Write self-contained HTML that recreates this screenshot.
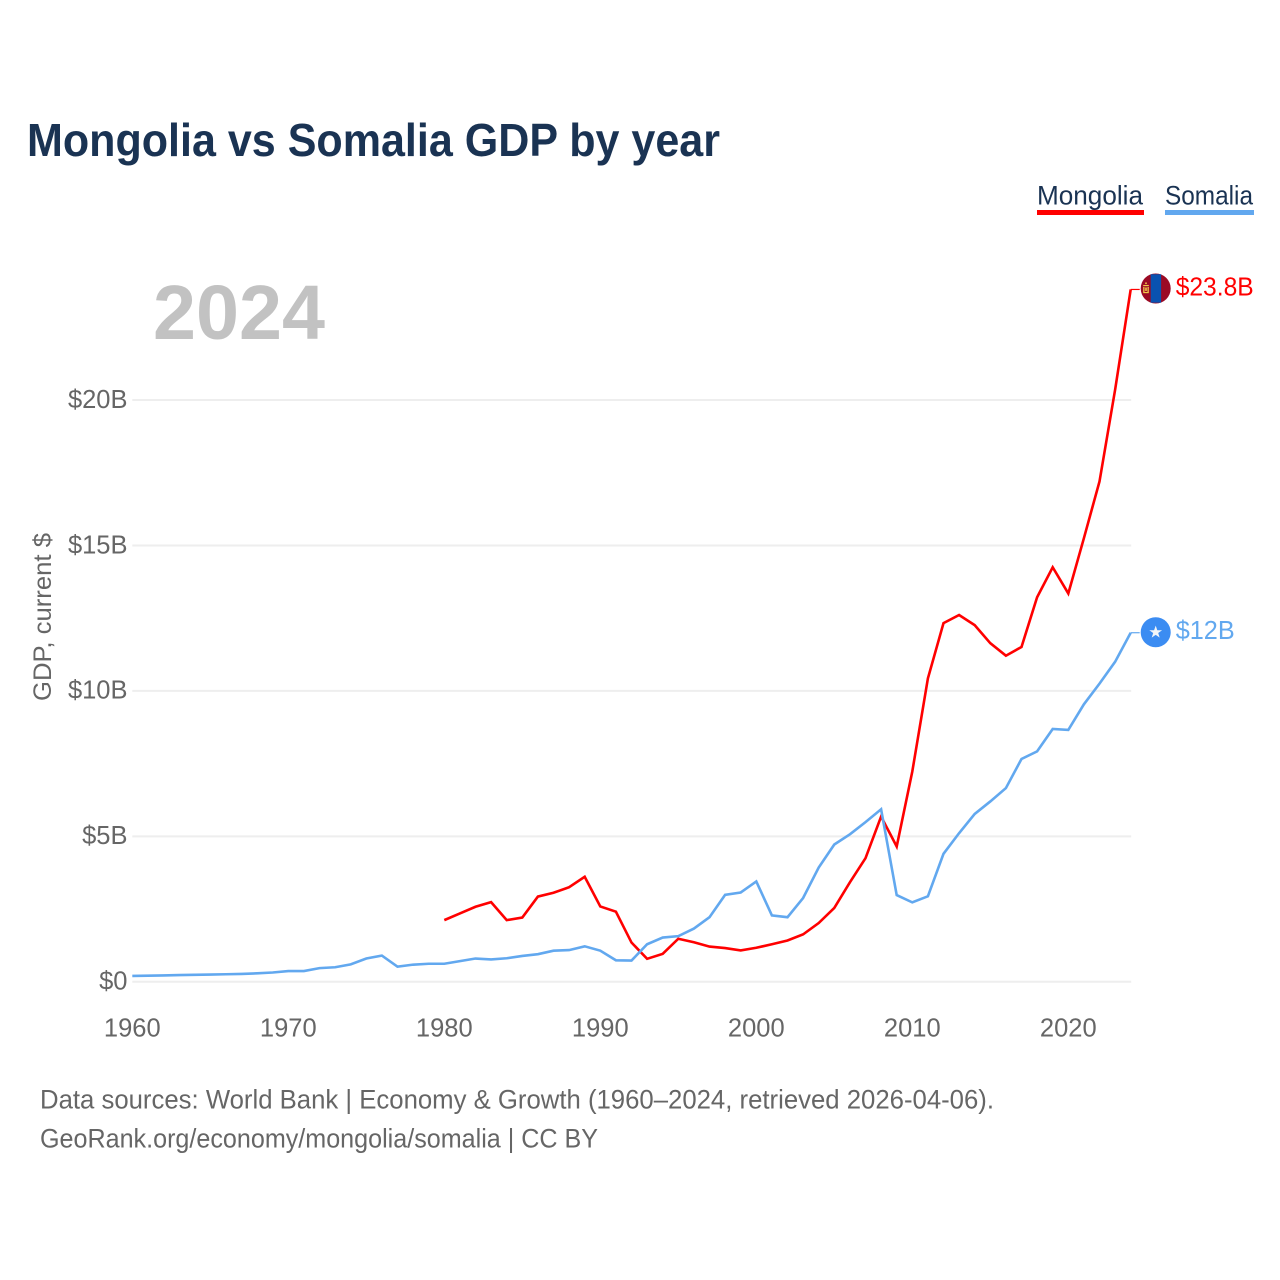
<!DOCTYPE html>
<html lang="en">
<head>
<meta charset="utf-8">
<title>Mongolia vs Somalia GDP by year</title>
<style>
html,body{margin:0;padding:0;background:#fff;width:1280px;height:1280px;overflow:hidden}
svg{display:block;font-family:"Liberation Sans",sans-serif}
</style>
</head>
<body>
<svg id="chart" xmlns="http://www.w3.org/2000/svg" width="1280" height="1280" viewBox="0 0 1280 1280">
  <rect width="1280" height="1280" fill="#fff"/>
  <text x="27" y="156" font-size="46" font-weight="700" fill="#1a3353" textLength="693" lengthAdjust="spacingAndGlyphs">Mongolia vs Somalia GDP by year</text>
  <g>
    <text x="1037" y="204.5" font-size="26.5" fill="#1a3353" textLength="106" lengthAdjust="spacingAndGlyphs">Mongolia</text>
    <rect x="1037" y="210" width="107" height="5" fill="#ff0000"/>
  </g>
  <g>
    <text x="1165" y="204.5" font-size="26.5" fill="#1a3353" textLength="88" lengthAdjust="spacingAndGlyphs">Somalia</text>
    <rect x="1165" y="210" width="89" height="5" fill="#62a8ef"/>
  </g>
  <text x="153" y="339" font-size="77" font-weight="700" fill="#c2c2c2" textLength="172" lengthAdjust="spacingAndGlyphs">2024</text>
  <text transform="translate(51,701) rotate(-90)" font-size="25" fill="#666" textLength="168" lengthAdjust="spacingAndGlyphs">GDP, current $</text>
  <g id="grid"></g>
  <g id="y-ticks"></g>
  <g id="x-ticks"></g>
  <g id="series"></g>
  <g id="end-labels"></g>
  <text x="40" y="1108.5" font-size="26.5" fill="#666" textLength="954" lengthAdjust="spacingAndGlyphs">Data sources: World Bank | Economy &amp; Growth (1960–2024, retrieved 2026-04-06).</text>
  <text x="40" y="1147.5" font-size="26.5" fill="#666" textLength="558" lengthAdjust="spacingAndGlyphs">GeoRank.org/economy/mongolia/somalia | CC BY</text>
</svg>
<script>
const years = [1960,1961,1962,1963,1964,1965,1966,1967,1968,1969,1970,1971,1972,1973,1974,1975,1976,1977,1978,1979,1980,1981,1982,1983,1984,1985,1986,1987,1988,1989,1990,1991,1992,1993,1994,1995,1996,1997,1998,1999,2000,2001,2002,2003,2004,2005,2006,2007,2008,2009,2010,2011,2012,2013,2014,2015,2016,2017,2018,2019,2020,2021,2022,2023,2024];
const somaliaGdp = [0.2,0.21,0.22,0.23,0.24,0.25,0.26,0.27,0.29,0.32,0.37,0.37,0.47,0.5,0.6,0.8,0.9,0.52,0.59,0.62,0.62,0.71,0.8,0.77,0.81,0.89,0.95,1.07,1.09,1.22,1.07,0.74,0.73,1.29,1.52,1.57,1.83,2.22,2.99,3.07,3.45,2.28,2.22,2.88,3.93,4.72,5.07,5.49,5.93,2.98,2.73,2.94,4.4,5.11,5.77,6.2,6.66,7.66,7.92,8.69,8.66,9.54,10.25,11.0,12.0];
const mongoliaGdp = [null,null,null,null,null,null,null,null,null,null,null,null,null,null,null,null,null,null,null,null,2.12,2.35,2.58,2.74,2.12,2.21,2.93,3.06,3.25,3.61,2.59,2.41,1.35,0.79,0.96,1.48,1.36,1.21,1.16,1.08,1.17,1.29,1.42,1.63,2.02,2.54,3.42,4.25,5.68,4.65,7.23,10.43,12.33,12.61,12.26,11.64,11.21,11.51,13.22,14.25,13.35,15.25,17.2,20.35,23.8];
const yTickValues = [0,5,10,15,20];
const yTickLabels = ["$0","$5B","$10B","$15B","$20B"];
const xTickValues = [1960,1970,1980,1990,2000,2010,2020];
const xTickLabels = ["1960","1970","1980","1990","2000","2010","2020"];
const mongoliaEndLabel = "$23.8B";
const somaliaEndLabel = "$12B";

const NS = "http://www.w3.org/2000/svg";
const xScale = function (year) { return 132.3 + (year - 1960) * 15.6; };
const yScale = function (value) { return 981.8 - value * 29.09; };

function svgEl(tag, parent, props) {
  const node = document.createElementNS(NS, tag);
  Object.keys(props).forEach(function (k) { node.setAttribute(k, props[k]); });
  parent.appendChild(node);
  return node;
}

const gridGroup = document.getElementById("grid");
const yTickGroup = document.getElementById("y-ticks");
yTickValues.forEach(function (v, i) {
  const line = svgEl("line", gridGroup, {x1: xScale(1960), x2: xScale(2024) + 0.5, y1: yScale(v), y2: yScale(v), stroke: "#eeeeee", "stroke-width": 2});
  
  
  const label = svgEl("text", yTickGroup, {x: 127.5, y: yScale(v) + 7.8, "text-anchor": "end", "font-size": 25.5, fill: "#666"});
  
  
  label.textContent = yTickLabels[i];
});

const xTickGroup = document.getElementById("x-ticks");
xTickValues.forEach(function (yr, i) {
  const label = svgEl("text", xTickGroup, {x: xScale(yr), y: 1036.3, "text-anchor": "middle", "font-size": 25.5, fill: "#666"});
  
  
  label.textContent = xTickLabels[i];
});

function linePath(values) {
  let d = "";
  values.forEach(function (v, i) {
    if (v === null) return;
    d += (d ? "L" : "M") + xScale(years[i]).toFixed(2) + " " + yScale(v).toFixed(2);
  });
  return d;
}

const seriesGroup = document.getElementById("series");
const endGroup = document.getElementById("end-labels");

const mongoliaLine = svgEl("path", seriesGroup, {d: linePath(mongoliaGdp), fill: "none", stroke: "#ff0000", "stroke-width": 2.6, "stroke-linejoin": "miter"});



const somaliaLine = svgEl("path", seriesGroup, {d: linePath(somaliaGdp), fill: "none", stroke: "#62a8ef", "stroke-width": 2.6, "stroke-linejoin": "miter"});



const lastYear = years[years.length - 1];
const endX = xScale(lastYear);
const mongoliaY = yScale(mongoliaGdp[mongoliaGdp.length - 1]);
const somaliaY = yScale(somaliaGdp[somaliaGdp.length - 1]);

const connectorM = svgEl("line", endGroup, {x1: endX, x2: endX + 9, y1: mongoliaY, y2: mongoliaY, stroke: "#ff0000", "stroke-width": 1.2});


const connectorS = svgEl("line", endGroup, {x1: endX, x2: endX + 9, y1: somaliaY, y2: somaliaY, stroke: "#62a8ef", "stroke-width": 1.2});



/* Mongolia flag marker */
const flagM = svgEl("g", endGroup, {transform: "translate(" + (endX + 25) + " " + (mongoliaY - 1) + ")"});


svgEl("circle", flagM, {cx: 0, cy: 0, r: 15, fill: "#9b0a24"});
svgEl("rect", flagM, {x: -5, y: -14.2, width: 10.4, height: 28.4, fill: "#0a52b0"});
svgEl("rect", flagM, {x: -10.5, y: -6, width: 1.6, height: 1.6, fill: "#f0c94a"});
svgEl("rect", flagM, {x: -12.5, y: -3.5, width: 5.6, height: 1.2, fill: "#f0c94a"});
svgEl("rect", flagM, {x: -12.5, y: -1.5, width: 1.3, height: 5, fill: "#f0c94a"});
svgEl("rect", flagM, {x: -8.2, y: -1.5, width: 1.3, height: 5, fill: "#f0c94a"});
svgEl("rect", flagM, {x: -10.5, y: -1, width: 1.6, height: 3.5, fill: "#f0c94a"});
svgEl("rect", flagM, {x: -12.5, y: 3.5, width: 5.6, height: 1.2, fill: "#f0c94a"});

/* Somalia flag marker */
const flagS = svgEl("g", endGroup, {transform: "translate(" + (endX + 25) + " " + (somaliaY - 0.5) + ")"});


svgEl("circle", flagS, {cx: 0, cy: 0, r: 15, fill: "#3b8cf2"});
svgEl("polygon", flagS, {points: "0,-6.6 1.6,-2 6.4,-2 2.5,0.8 4,5.4 0,2.6 -4,5.4 -2.5,0.8 -6.4,-2 -1.6,-2", fill: "#f2f5f8"});

const labelM = svgEl("text", endGroup, {x: endX + 45, y: mongoliaY + 5.8, "font-size": 25.5, fill: "#ff0000", textLength: 78, lengthAdjust: "spacingAndGlyphs"});


labelM.textContent = mongoliaEndLabel;

const labelS = svgEl("text", endGroup, {x: endX + 45, y: somaliaY + 6.5, "font-size": 25.5, fill: "#62a8ef", textLength: 59, lengthAdjust: "spacingAndGlyphs"});


labelS.textContent = somaliaEndLabel;
</script>
</body>
</html>
